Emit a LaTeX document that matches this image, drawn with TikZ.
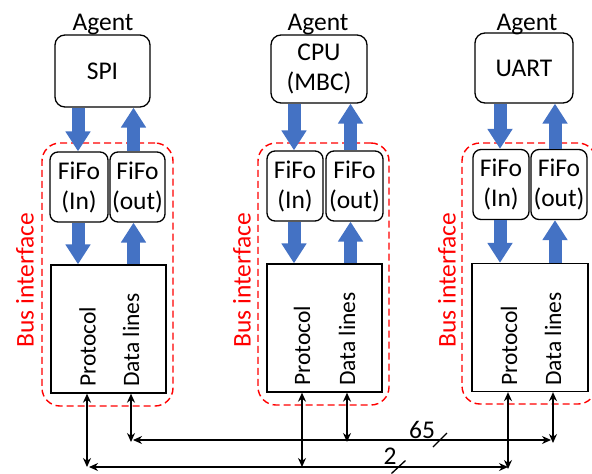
\documentclass[tikz,border=0pt]{standalone}
\usepackage{fontspec}
\setmainfont{Carlito}
\usetikzlibrary{arrows.meta,calc}
\definecolor{arrowblue}{HTML}{4472C4}
\begin{document}
\begin{tikzpicture}[x=1pt,y=-1pt,
  every node/.style={font=\fontsize{25.5}{30}\selectfont},
  agentbox/.style={draw, line width=1.3pt, rounded corners=10pt, align=center, inner sep=0pt},
  fifobox/.style={draw, line width=1.3pt, rounded corners=8pt, align=center, inner sep=0pt, minimum height=70pt},
  busbox/.style={draw, line width=1.3pt, inner sep=0pt, minimum width=115pt, minimum height=128pt},
  dashbox/.style={draw=red, dash pattern=on 7pt off 4pt, line width=1.4pt, rounded corners=18pt, inner sep=0pt},
  blockarrow/.style={draw=arrowblue, line width=13pt, -{Triangle[width=24pt,length=20pt]}},
  sig/.style={line width=1.4pt, {Stealth[length=9pt,width=8pt]}-{Stealth[length=9pt,width=8pt]}},
  vlabel/.style={rotate=90, anchor=west, inner sep=0pt, font=\fontsize{23.5}{28}\selectfont},
  buslabel/.style={rotate=90, text=red, inner sep=0pt},
  toplabel/.style={anchor=base, inner sep=0pt},
  numlabel/.style={inner sep=0pt},
]
\useasboundingbox (0,0) rectangle (592,474);

% dashed bus interface regions
\node[dashbox, minimum width=131pt, minimum height=263pt] (dash1) at (107.5,274.5) {};
\node[dashbox, minimum width=131pt, minimum height=262pt] (dash2) at (323.5,274) {};
\node[dashbox, minimum width=134pt, minimum height=261pt] (dash3) at (529,273.5) {};

\node[buslabel] (bl1) at (25,280) {Bus interface};
\node[buslabel] (bl2) at (242,280) {Bus interface};
\node[buslabel] (bl3) at (447,280) {Bus interface};

% agent labels
\node[toplabel] (ag1) at (103,30) {Agent};
\node[toplabel] (ag2) at (318,30) {Agent};
\node[toplabel] (ag3) at (527,30) {Agent};

% agent boxes
\node[agentbox, minimum width=95pt, minimum height=72pt] (spi) at (102.5,71) {SPI};
\node[agentbox, minimum width=96pt, minimum height=68pt] (cpu) at (319,69) {CPU\\(MBC)};
\node[agentbox, minimum width=98pt, minimum height=70pt] (uart) at (524,68) {UART};

% FIFOs
\node[fifobox, minimum width=58pt] (fin1) at (79,187) {FiFo\\(In)};
\node[fifobox, minimum width=55pt] (fout1) at (137.5,187) {FiFo\\(out)};
\node[fifobox, minimum width=56pt] (fin2) at (295,186) {FiFo\\(In)};
\node[fifobox, minimum width=57pt] (fout2) at (354.5,186) {FiFo\\(out)};
\node[fifobox, minimum width=56pt] (fin3) at (501,184.5) {FiFo\\(In)};
\node[fifobox, minimum width=56pt] (fout3) at (559,184.5) {FiFo\\(out)};

% bus boxes
\node[busbox] (bus1) at (108.5,329) {};
\node[busbox] (bus2) at (324.5,328) {};
\node[busbox, minimum width=116pt] (bus3) at (530,327.5) {};

\node[vlabel] (pr1) at (87.5,387) {Protocol};
\node[vlabel] (dl1) at (131,387) {Data lines};
\node[vlabel] (pr2) at (302,386) {Protocol};
\node[vlabel] (dl2) at (347,386) {Data lines};
\node[vlabel] (pr3) at (509,386) {Protocol};
\node[vlabel] (dl3) at (553,386) {Data lines};

% blue block arrows
\foreach \ag/\fa/\fb in {spi/fin1/fout1, cpu/fin2/fout2, uart/fin3/fout3}{
  \draw[blockarrow] ([xshift=-1pt]\fa.north |- \ag.south) -- ([xshift=-1pt]\fa.north);
  \draw[blockarrow] ([xshift=-4pt]\fb.north) -- ([xshift=-4pt]\fb.north |- \ag.south);
}
\foreach \fa/\fb/\bb in {fin1/fout1/bus1, fin2/fout2/bus2, fin3/fout3/bus3}{
  \draw[blockarrow] ([xshift=-1pt]\fa.south) -- ([xshift=-1pt]\fa.south |- \bb.north);
  \draw[blockarrow] ([xshift=-4pt]\fb.south |- \bb.north) -- ([xshift=-4pt]\fb.south);
}

% bus signal lines
\coordinate (p1) at (87,467);
\coordinate (d1) at (131,440);
\coordinate (p2) at (302,467);
\coordinate (d2) at (347,440);
\coordinate (p3) at (508,467);
\coordinate (d3) at (553,440);
\coordinate (h65r) at (551,440);
\coordinate (h65l) at (133,440);
\coordinate (h2l) at (89,467);

\draw[sig] (bus1.south -| p1) -- (p1);
\draw[sig] (bus1.south -| d1) -- ([yshift=-2pt]d1);
\draw[sig] (bus2.south -| p2) -- (p2);
\draw[sig] (bus2.south -| d2) -- ([yshift=-2pt]d2);
\draw[sig] (bus3.south -| p3) -- ([yshift=-2pt]p3);
\draw[sig] (bus3.south -| d3) -- ([yshift=-3pt]d3);
\draw[sig] (h65l) -- (h65r);
\draw[sig] (h2l) -- (p3);

% bus width marks
\coordinate (s65) at (440,440);
\coordinate (s2) at (398.5,467);
\draw[line width=1.3pt] ($(s65)+(-7,7)$) -- ($(s65)+(7,-7)$);
\draw[line width=1.3pt] ($(s2)+(-7,6.5)$) -- ($(s2)+(7,-6.5)$);
\node[numlabel] (n65) at (422,430) {65};
\node[numlabel] (n2) at (390,456) {2};
\end{tikzpicture}
\end{document}
